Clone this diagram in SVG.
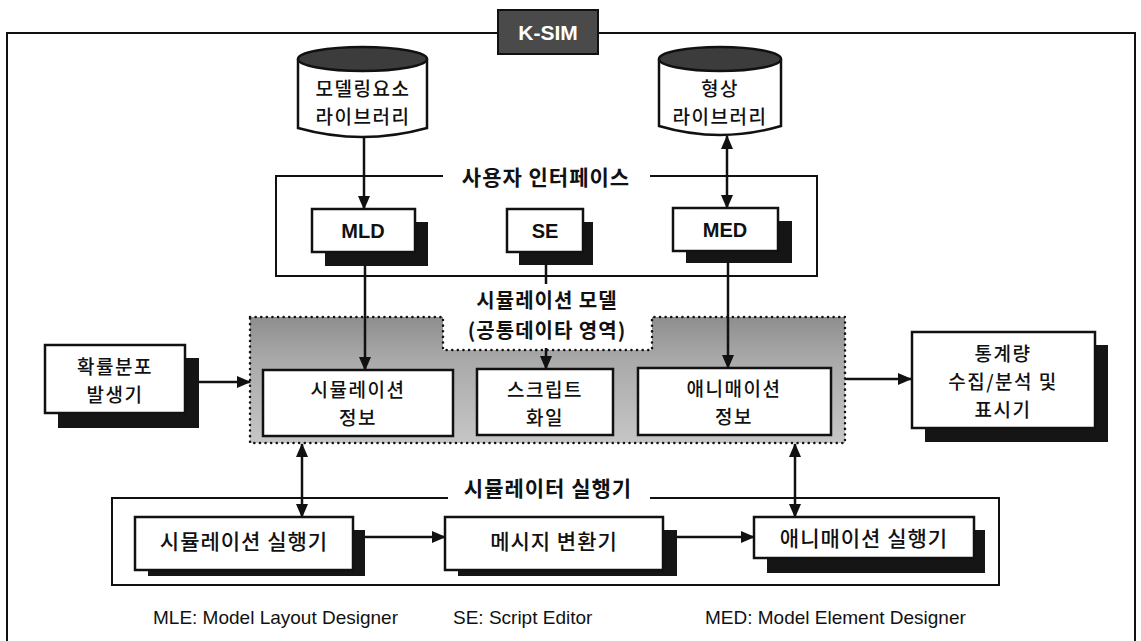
<svg xmlns="http://www.w3.org/2000/svg" width="1141" height="641" viewBox="0 0 1141 641">
<style>
text{font-family:"Liberation Sans","Noto Sans CJK KR",sans-serif;fill:#111;dominant-baseline:central;text-anchor:middle}
.kr{font-family:"Noto Sans CJK KR","Noto Sans",sans-serif;font-size:21px;font-weight:500;letter-spacing:1px}
.k2{font-family:"Noto Sans CJK KR","Noto Sans",sans-serif;font-size:19px;font-weight:500;letter-spacing:1.5px}
.tt{font-family:"Noto Sans CJK KR","Noto Sans",sans-serif;font-size:21px;font-weight:700;letter-spacing:1px}
.t2{font-family:"Noto Sans CJK KR","Noto Sans",sans-serif;font-size:20px;font-weight:700;letter-spacing:1px}
.en{font-size:20px;font-weight:700}
.lg{font-size:19px;text-anchor:start}
.box{fill:#fff;stroke:#111;stroke-width:2.5}
.shd{fill:#151515}
.frm{fill:none;stroke:#111;stroke-width:2}
.ln{fill:none;stroke:#111;stroke-width:2.5}
</style>
<defs>
<marker id="ah" markerWidth="14" markerHeight="12" refX="13" refY="6" orient="auto-start-reverse" markerUnits="userSpaceOnUse">
<path d="M0,0 L14,6 L0,12 Z" fill="#111"/>
</marker>
<linearGradient id="gr" x1="0" y1="0" x2="0" y2="1">
<stop offset="0" stop-color="#8e8e8e"/>
<stop offset="0.35" stop-color="#aaaaaa"/>
<stop offset="1" stop-color="#c6c6c6"/>
</linearGradient>
</defs>

<g id="frame">
<path class="frm" d="M7,641 L7,33 L498,33 M598,33 L1135,33 L1135,641"/>
</g>
<g id="ksim">
<rect x="498" y="10" width="100" height="44" fill="#4a4a4a" stroke="#111" stroke-width="2"/>
<text x="548" y="32" style="fill:#fff;font-size:21px;font-weight:700">K-SIM</text>
</g>

<g id="lib-model">
<path d="M298,59 L298,128 Q362,146 427,128 L427,59" fill="#fff" stroke="#111" stroke-width="2.5"/>
<ellipse cx="362.5" cy="59" rx="64.5" ry="12" fill="#3c3c3c" stroke="#111" stroke-width="2.5"/>
<text class="k2" x="363" y="87">모델링요소</text>
<text class="k2" x="363" y="115">라이브러리</text>
</g>
<g id="lib-shape">
<path d="M659,59 L659,126 Q720,144 781,126 L781,59" fill="#fff" stroke="#111" stroke-width="2.5"/>
<ellipse cx="720" cy="59" rx="61" ry="12" fill="#3c3c3c" stroke="#111" stroke-width="2.5"/>
<text class="k2" x="720" y="87">형상</text>
<text class="k2" x="720" y="115">라이브러리</text>
</g>

<g id="ui">
<path class="frm" d="M443,176 L276,176 L276,276 L817,276 L817,176 L650,176"/>
<text class="tt" x="546" y="176">사용자 인터페이스</text>
</g>
<g id="mld">
<rect class="shd" x="325" y="222" width="103" height="44"/>
<rect class="box" x="312" y="209" width="103" height="43"/>
<text class="en" x="363" y="231">MLD</text>
</g>
<g id="se">
<rect class="shd" x="519" y="222" width="74" height="43"/>
<rect class="box" x="507" y="209" width="76" height="43"/>
<text class="en" x="545" y="231">SE</text>
</g>
<g id="med">
<rect class="shd" x="686" y="221" width="106" height="42"/>
<rect class="box" x="673" y="208" width="105" height="43"/>
<text class="en" x="725" y="230">MED</text>
</g>

<g id="shared">
<path d="M250,317 L443,317 L443,350 L652,350 L652,317 L845,317 L845,443 L250,443 Z" fill="url(#gr)" stroke="#111" stroke-width="2.5" stroke-dasharray="0.1 5.5" stroke-linecap="round"/>
<text class="t2" x="547" y="299">시뮬레이션 모델</text>
<text class="t2" x="547" y="329">(공통데이타 영역)</text>
</g>
<g id="sim-info">
<rect class="box" x="263" y="370" width="190" height="66"/>
<text class="k2" x="358" y="388">시뮬레이션</text>
<text class="k2" x="358" y="416">정보</text>
</g>
<g id="script-file">
<rect class="box" x="477" y="369" width="136" height="66"/>
<text class="k2" x="545" y="388">스크립트</text>
<text class="k2" x="545" y="416">화일</text>
</g>
<g id="anim-info">
<rect class="box" x="638" y="368" width="193" height="67"/>
<text class="k2" x="734" y="387">애니매이션</text>
<text class="k2" x="734" y="415">정보</text>
</g>

<g id="rng">
<rect class="shd" x="58" y="358" width="141" height="70"/>
<rect class="box" x="45" y="345" width="140" height="68"/>
<text class="k2" x="115" y="365">확률분포</text>
<text class="k2" x="115" y="393">발생기</text>
</g>
<g id="stats">
<rect class="shd" x="925" y="345" width="183" height="97"/>
<rect class="box" x="912" y="332" width="183" height="96"/>
<text class="k2" x="1003" y="352">통계량</text>
<text class="k2" x="1003" y="380">수집/분석 및</text>
<text class="k2" x="1003" y="408">표시기</text>
</g>

<g id="exec">
<path class="frm" d="M448,498 L112,498 L112,585 L999,585 L999,498 L650,498"/>
<text class="tt" x="548" y="487">시뮬레이터 실행기</text>
</g>
<g id="sim-exec">
<rect class="shd" x="148" y="530" width="217" height="46"/>
<rect class="box" x="135" y="517" width="218" height="53"/>
<text class="kr" x="244" y="540">시뮬레이션 실행기</text>
</g>
<g id="msg-conv">
<rect class="shd" x="458" y="530" width="219" height="46"/>
<rect class="box" x="445" y="517" width="218" height="53"/>
<text class="kr" x="554" y="540">메시지 변환기</text>
</g>
<g id="anim-exec">
<rect class="shd" x="767" y="530" width="218" height="43"/>
<rect class="box" x="754" y="517" width="220" height="41"/>
<text class="kr" x="864" y="537">애니매이션 실행기</text>
</g>

<g id="connectors">
<line class="ln" x1="364" y1="138" x2="364" y2="209" marker-end="url(#ah)"/>
<line class="ln" x1="727" y1="136" x2="727" y2="208" marker-start="url(#ah)" marker-end="url(#ah)"/>
<line class="ln" x1="365" y1="266" x2="365" y2="370" marker-end="url(#ah)"/>
<line class="ln" x1="546" y1="265" x2="546" y2="284"/>
<line class="ln" x1="546" y1="348" x2="546" y2="369" marker-end="url(#ah)"/>
<line class="ln" x1="728" y1="263" x2="728" y2="368" marker-end="url(#ah)"/>
<line class="ln" x1="199" y1="382" x2="250" y2="382" marker-end="url(#ah)"/>
<line class="ln" x1="845" y1="379" x2="911" y2="379" marker-end="url(#ah)"/>
<line class="ln" x1="302" y1="444" x2="302" y2="517" marker-start="url(#ah)" marker-end="url(#ah)"/>
<line class="ln" x1="795" y1="444" x2="795" y2="517" marker-start="url(#ah)" marker-end="url(#ah)"/>
<line class="ln" x1="365" y1="537" x2="445" y2="537" marker-end="url(#ah)"/>
<line class="ln" x1="677" y1="537" x2="754" y2="537" marker-end="url(#ah)"/>
</g>

<g id="legend">
<text class="lg" x="153" y="617">MLE: Model Layout Designer</text>
<text class="lg" x="453" y="617">SE: Script Editor</text>
<text class="lg" x="705" y="617">MED: Model Element Designer</text>
</g>
</svg>
